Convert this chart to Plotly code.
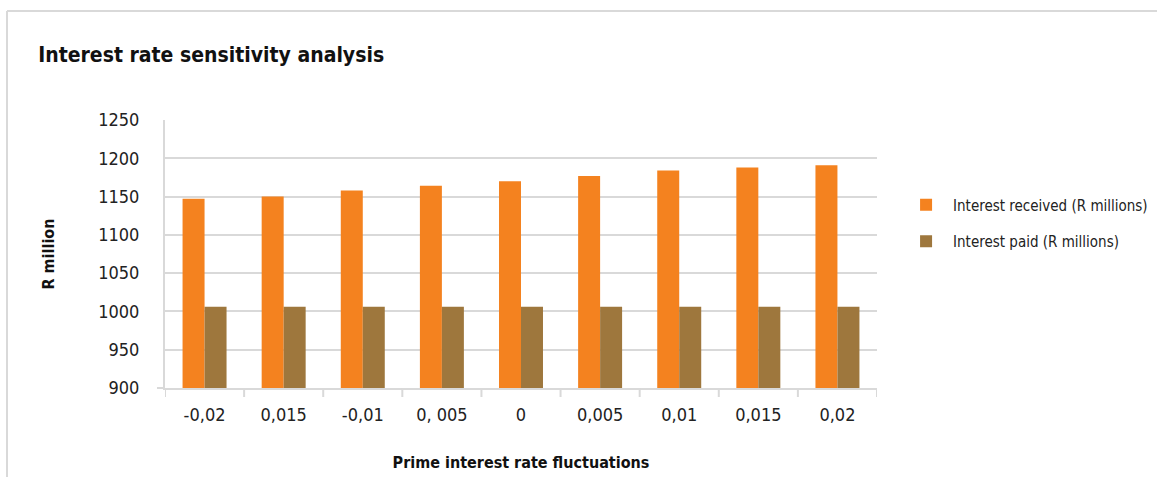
import plotly.graph_objects as go

categories = ["-0,02", "0,015", "-0,01", "0, 005", "0", "0,005", "0,01", "0,015", "0,02"]
interest_received = [1147, 1150, 1158, 1164, 1170, 1177, 1184, 1188, 1191]
interest_paid = [1006, 1006, 1006, 1006, 1006, 1006, 1006, 1006, 1006]
y_ticks = [900, 950, 1000, 1050, 1100, 1150, 1200, 1250]

positions = list(range(len(categories)))
FONT = "DejaVu Sans Condensed, DejaVu Sans, sans-serif"
PW, PH = 712, 268  # plot area size in px

fig = go.Figure()
fig.add_trace(go.Bar(x=positions, y=interest_received, name="Interest received (R millions)",
                     legendgroup="a", marker=dict(color="#F4821F", line=dict(width=0))))
fig.add_trace(go.Bar(x=positions, y=interest_paid, name="Interest paid (R millions)",
                     legendgroup="b", marker=dict(color="#9E773D", line=dict(width=0))))

border = dict(color="#D9D9D9", width=2)
fig.update_layout(
    width=1157, height=477,
    margin=dict(l=165, r=280, t=120, b=89, autoexpand=False),
    paper_bgcolor="white", plot_bgcolor="white",
    font=dict(family=FONT, color="#222222", size=18),
    barmode="group", bargap=0.444, bargroupgap=0,
    title=dict(text="<b>Interest rate sensitivity analysis</b>", x=0.033, xanchor="left",
               y=1 - 55 / 477, yanchor="middle", xref="container", yref="container",
               font=dict(size=21, color="#111111", family=FONT)),
    legend=dict(x=1.031, y=0.616, xanchor="left", yanchor="middle",
                font=dict(size=15, color="#222222", family=FONT),
                tracegroupgap=14, itemwidth=44, bgcolor="rgba(0,0,0,0)"),
    xaxis=dict(tickvals=positions, ticktext=categories, range=[-0.5, len(categories) - 0.5],
               showline=True, linecolor="#D9D9D9", linewidth=2, ticks="",
               showgrid=False, ticklabelstandoff=9,
               title=dict(text="<b>Prime interest rate fluctuations</b>", standoff=33,
                          font=dict(size=16, color="#111111"))),
    yaxis=dict(range=[900, 1250], tickvals=y_ticks, showgrid=True, gridcolor="#D9D9D9",
               gridwidth=2, showline=True, linecolor="#D9D9D9", linewidth=2,
               ticks="outside", tickcolor="rgba(0,0,0,0)", ticklen=20, zeroline=False,
               title=dict(text="<b>R million</b>", standoff=40,
                          font=dict(size=16, color="#111111"))),
    shapes=[
        dict(type="line", xref="paper", yref="paper", x0=(7 - 165) / PW, x1=(1157 - 165) / PW,
             y0=(388 - 11) / PH, y1=(388 - 11) / PH, line=border),
        dict(type="line", xref="paper", yref="paper", x0=(7 - 165) / PW, x1=(7 - 165) / PW,
             y0=(388 - 11) / PH, y1=(388 - 480) / PH, line=border),
        dict(type="line", xref="paper", yref="paper", x0=-8 / PW, x1=0, y0=0, y1=0, line=border),
    ]
    + [dict(type="line", xref="x", yref="paper", x0=p - 0.5, x1=p - 0.5, y0=0, y1=-9 / PH,
            line=dict(color="#D9D9D9", width=2)) for p in positions + [len(categories)]],
)

fig.write_html("out.html")
